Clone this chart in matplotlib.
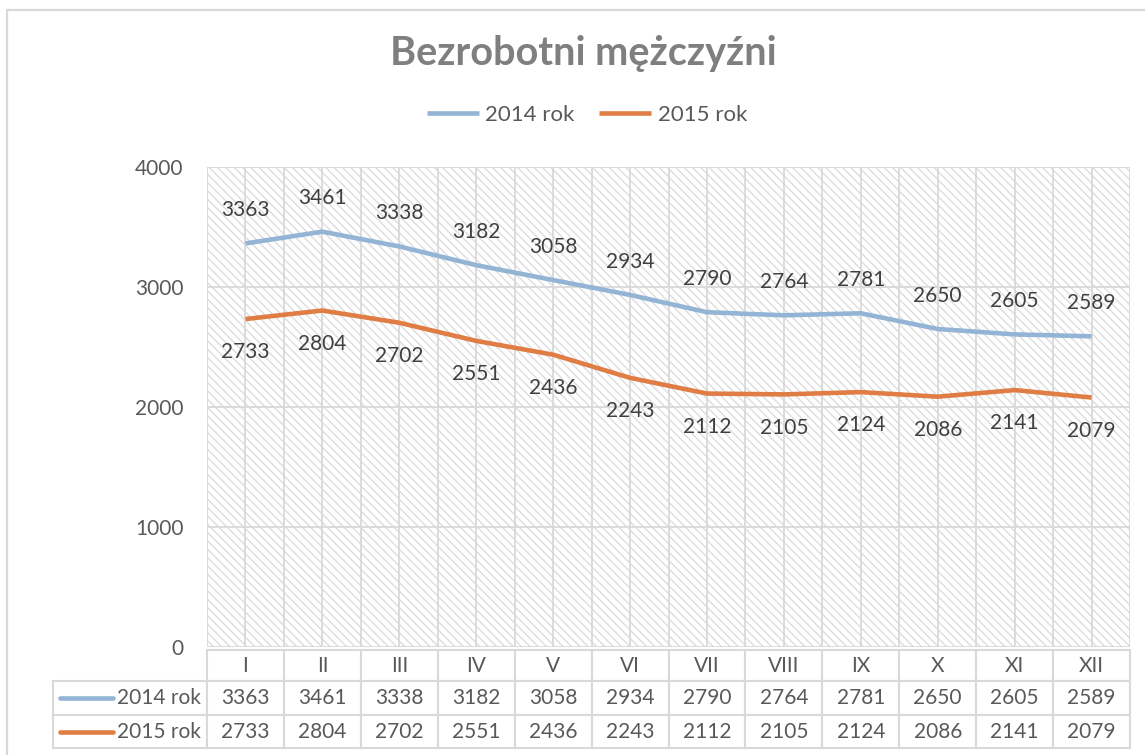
import numpy as np
import matplotlib
matplotlib.use("Agg")
from matplotlib import pyplot as plt
from matplotlib.table import Table
from matplotlib.patches import Rectangle

# data
months = ["I", "II", "III", "IV", "V", "VI", "VII", "VIII", "IX", "X", "XI", "XII"]
rok_2014 = [3363, 3461, 3338, 3182, 3058, 2934, 2790, 2764, 2781, 2650, 2605, 2589]
rok_2015 = [2733, 2804, 2702, 2551, 2436, 2243, 2112, 2105, 2124, 2086, 2141, 2079]
series_names = ["2014 rok", "2015 rok"]
yticks = [0, 1000, 2000, 3000, 4000]

c2014 = "#93B4D5"
c2015 = "#E07D44"
grid_c = "#D9D9D9"
txt_c = "#595959"

plt.rcParams["font.family"] = ["Lato", "DejaVu Sans"]
plt.rcParams["hatch.linewidth"] = 1.0

W, H = 1145, 755
fig = plt.figure(figsize=(W / 100, H / 100), dpi=100)
fig.patch.set_facecolor("white")

# outer frame (only top/left visible in the reference)
fig.add_artist(Rectangle((7 / W, -0.1), 1.2, 1 - 9.5 / H + 0.1, transform=fig.transFigure,
                         fill=False, edgecolor=grid_c, lw=1.6))

left, right, top, bottom = 207, 1130, 167, 647
pw, ph = right - left, bottom - top
ax = fig.add_axes([left / W, 1 - bottom / H, pw / W, ph / H])

# hatched plot area (hatch colour follows the edge colour)
ax.patch.set_facecolor("white")
ax.patch.set_edgecolor("#DDDDDD")
ax.patch.set_linewidth(0)
ax.patch.set_hatch("\\" * 4)

x = np.arange(len(months))
ax.plot(x, rok_2014, color=c2014, lw=3.3, solid_capstyle="butt", label=series_names[0], zorder=3)
ax.plot(x, rok_2015, color=c2015, lw=3.3, solid_capstyle="butt", label=series_names[1], zorder=3)

# data labels
for xi, v in zip(x, rok_2014):
    ax.annotate(str(v), (xi, v), xytext=(0, 24), textcoords="offset points",
                ha="center", va="center", fontsize=15, color="#404040")
for xi, v in zip(x, rok_2015):
    ax.annotate(str(v), (xi, v), xytext=(0, -24), textcoords="offset points",
                ha="center", va="center", fontsize=15, color="#404040")

ax.set_xlim(-0.5, len(months) - 0.5)
ax.set_ylim(0, 4000)
ax.set_yticks(yticks)
ax.set_xticks(x)
ax.set_xticks(np.arange(len(months) + 1) - 0.5, minor=True)
ax.set_xticklabels([])
ax.tick_params(axis="both", which="both", length=0)
ax.tick_params(axis="y", labelsize=15, labelcolor=txt_c, pad=17)
ax.grid(True, which="both", color=grid_c, lw=1.3)
ax.set_axisbelow(True)
for s in ax.spines.values():
    s.set_visible(False)

# data table under the chart, sizes in axes fractions
lab_w = 154 / pw
col_w = 1.0 / len(months)
row_h = [31 / ph, 34 / ph, 33 / ph]
tab_top = -3 / ph
tot_h = sum(row_h)
tbl = Table(ax, bbox=[0, tab_top - tot_h, 1.0, tot_h])
for j, m in enumerate(months):
    tbl.add_cell(0, j, width=col_w, height=row_h[0], text=m, loc="center")
for i, (name, vals) in enumerate(zip(series_names, [rok_2014, rok_2015])):
    c = tbl.add_cell(i + 1, -1, width=lab_w, height=row_h[i + 1], text=name, loc="right")
    c.PAD = 0.04
    for j, v in enumerate(vals):
        tbl.add_cell(i + 1, j, width=col_w, height=row_h[i + 1], text=str(v), loc="center")
tbl.auto_set_font_size(False)
tbl.set_fontsize(15)
for cell in tbl.get_celld().values():
    cell.set_edgecolor(grid_c)
    cell.set_linewidth(1.5)
    cell.get_text().set_color(txt_c)
ax.add_table(tbl)
tbl.set_clip_on(False)

# legend keys inside the row label cells
px = lambda v: (v - left) / pw
y_acc = tab_top
for i, col in enumerate([c2014, c2015]):
    y_acc -= row_h[i]
    yc = y_acc - row_h[i + 1] / 2
    ax.plot([px(60), px(113)], [yc, yc], color=col, lw=3.3, transform=ax.transAxes,
            clip_on=False, solid_capstyle="round")

# title and legend
fig.text(583 / W, 1 - 53 / H, "Bezrobotni mężczyźni", ha="center", va="center",
         fontsize=28.5, fontweight="bold", color="#7F7F7F")
fig.legend(loc="center", bbox_to_anchor=(587 / W, 1 - 115 / H), ncol=2, frameon=False,
           fontsize=16, labelcolor=txt_c, handlelength=2.35, handletextpad=0.3,
           columnspacing=1.1)

fig.savefig("out.png", dpi=100, facecolor="white")
